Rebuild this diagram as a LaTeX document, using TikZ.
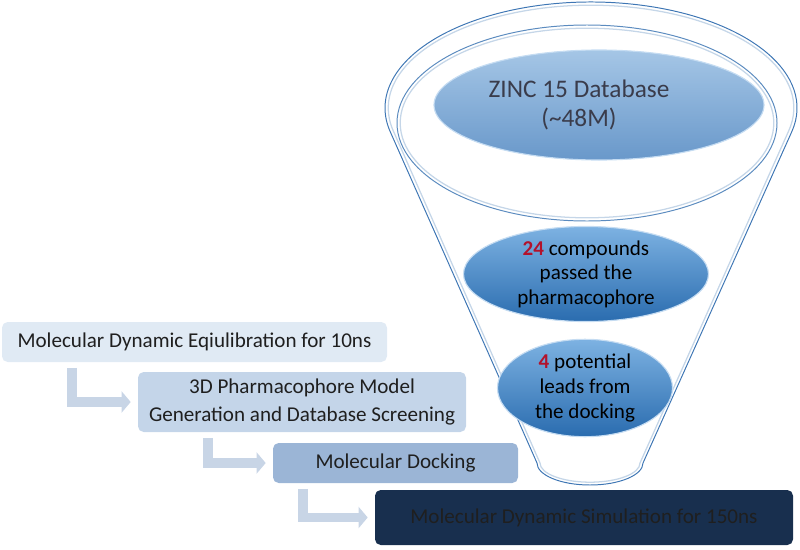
\documentclass[tikz,border=0pt]{standalone}
\usepackage{fontspec}
\setmainfont{Carlito}
\usetikzlibrary{calc,positioning,shapes,arrows.meta}

\definecolor{funnelblue}{RGB}{62,118,180}
\definecolor{zinctop}{RGB}{165,198,230}
\definecolor{zincbot}{RGB}{105,152,202}
\definecolor{passtop}{RGB}{125,178,226}
\definecolor{passbot}{RGB}{42,108,175}
\definecolor{leadred}{RGB}{178,18,44}
\definecolor{stepone}{RGB}{224,234,244}
\definecolor{steptwo}{RGB}{196,213,233}
\definecolor{stepthree}{RGB}{155,181,214}
\definecolor{stepfour}{RGB}{24,47,78}
\definecolor{arrowgray}{RGB}{200,213,230}
\definecolor{textgray}{RGB}{58,60,75}

\tikzset{
  stepbox/.style={rounded corners=4pt, inner sep=0pt, align=center,
    font=\fontsize{15}{20}\selectfont, text=black!88},
  funnelring/.style={draw=funnelblue, line width=0.7pt},
  funnelshine/.style={draw=funnelblue!30, line width=0.9pt},
  stage/.style={ellipse, inner sep=0pt, align=center,
    draw=white!55!passtop, line width=0.8pt},
  bentarrow/.style={draw=arrowgray, line width=7pt,
    -{Triangle[length=6.5pt,width=15pt]}, shorten >=5pt, shorten <=4pt}
}

\begin{document}
\begin{tikzpicture}
\useasboundingbox (0,0) rectangle (20,13.725);
\coordinate (rim) at (14.775,11.025);
\coordinate (ring) at (14.675,10.65);

% funnel
\draw[funnelshine] ($(rim)+(-13:5.07 and 2.57)$)
  arc[start angle=-13, end angle=192.8, x radius=5.07, y radius=2.57]
  -- (13.5,2.15) arc[start angle=180, end angle=360, x radius=1.25, y radius=0.48]
  -- cycle;
\draw[funnelring] ($(rim)+(-13:5.15 and 2.65)$)
  arc[start angle=-13, end angle=192.8, x radius=5.15, y radius=2.65]
  -- (13.425,2.15) arc[start angle=180, end angle=360, x radius=1.325, y radius=0.55]
  -- cycle;
\draw[funnelshine] (ring) ellipse [x radius=4.67, y radius=2.37];
\draw[funnelring, draw=funnelblue!85] (ring) ellipse [x radius=4.75, y radius=2.45];

% stages of the screening
\node[stage, minimum width=8.25cm, minimum height=2.75cm, top color=zinctop,
  bottom color=zincbot, text=textgray, font=\fontsize{18}{21}\selectfont]
  (zinc) at (14.975,11.1) {\hspace*{-1cm}ZINC 15 Database\\\hspace*{-1cm}(\textasciitilde48M)};
\node[stage, minimum width=6.125cm, minimum height=2.3cm, top color=passtop,
  bottom color=passbot, font=\fontsize{15}{17.5}\selectfont]
  (passed) at (14.65,6.875) {\textbf{\color{leadred}24} compounds\\passed the\\pharmacophore};
\node[stage, minimum width=4.375cm, minimum height=2.175cm, top color=passtop,
  bottom color=passbot, font=\fontsize{15}{18}\selectfont]
  (leads) at (14.625,4.025) {\textbf{\color{leadred}4} potential\\leads from\\the docking};

% workflow
\node[stepbox, fill=stepone, minimum width=9.625cm, minimum height=1cm]
  (equil) at (4.8625,5.175) {Molecular Dynamic Eqiulibration for 10ns};
\node[stepbox, fill=steptwo, minimum width=8.2cm, minimum height=1.5cm]
  (pharm) at (7.55,3.675) {3D Pharmacophore Model\\Generation and Database Screening};
\node[stepbox, fill=stepthree, minimum width=6.125cm, minimum height=1cm]
  (dock) at (9.8875,2.15) {Molecular Docking};
\node[stepbox, fill=stepfour, minimum width=10.45cm, minimum height=1.375cm]
  (prod) at (14.6,0.7875) {Molecular Dynamic Simulation for 150ns};

\draw[bentarrow] ([xshift=1.75cm]equil.south west) |- (pharm.west);
\draw[bentarrow] ([xshift=1.75cm]pharm.south west) |- (dock.west);
\draw[bentarrow] ([xshift=0.75cm]dock.south west) |- (prod.west);

\end{tikzpicture}
\end{document}
